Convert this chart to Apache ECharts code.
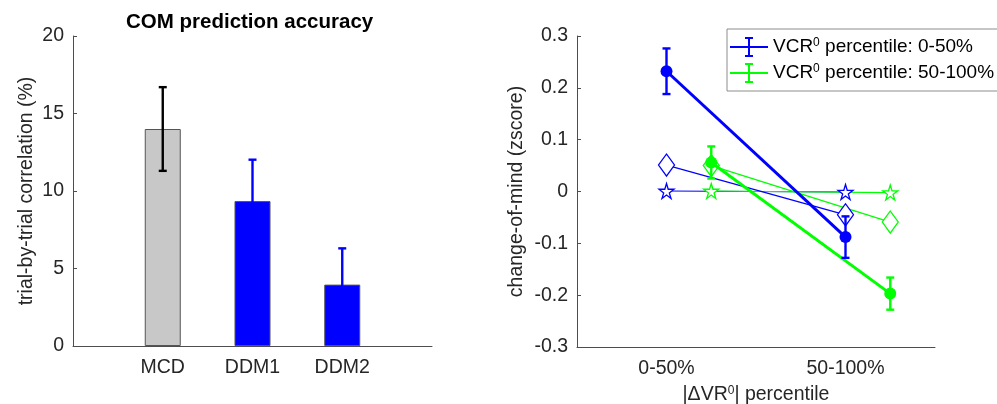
<!DOCTYPE html>
<html>
<head>
<meta charset="utf-8">
<script src="https://cdn.jsdelivr.net/npm/echarts@6/dist/echarts.min.js"></script>
<style>
  html, body { margin: 0; padding: 0; background: #fff; }
  #main { width: 997px; height: 404px; }
</style>
</head>
<body>
<div id="main"></div>
<script>
// left panel: COM prediction accuracy
const barCats = ['MCD', 'DDM1', 'DDM2'];
const barX = [1, 2, 3];
const barVals = [14.0, 9.35, 3.96];
const barErr = [2.7, 2.67, 2.34];
const barColors = ['#c8c8c8', '#0000ff', '#0000ff'];
const barErrColors = ['#000000', '#0000ff', '#0000ff'];
const barTicks = [0, 5, 10, 15, 20];

// right panel: change-of-mind
const pctCats = ['0-50%', '50-100%'];
const lowX = [1, 2];
const highX = [1.25, 2.25];
const lowMean = [0.232, -0.088];
const lowErr = [0.044, 0.040];
const highMean = [0.056, -0.197];
const highErr = [0.031, 0.031];
const lowDiamond = [0.051, -0.045];
const highDiamond = [0.050, -0.059];
const lowStar = [0.001, -0.001];
const highStar = [0.001, -0.002];

const BLUE = '#0000ff';
const GREEN = '#00ff00';
const TXT = '#262626';
const AX = '#4d4d4d';
const FS = 19.5;
const STAR = 'path://M50,0 L61,35 L98,35 L68,57 L79,91 L50,70 L21,91 L32,57 L2,35 L39,35 Z';
const ERRICON = 'path://M0,9 H38 V11 H0 Z M18,1 H20 V19 H18 Z M15,0 H23 V2 H15 Z M15,18 H23 V20 H15 Z';

let chart = echarts.init(document.getElementById('main'), null, { renderer: 'canvas' });

//误差棒
function errBar(params, api) {
	let x = api.value(0), lo = api.value(1), hi = api.value(2);
	let p1 = api.coord([x, lo]), p2 = api.coord([x, hi]);
	let color = api.visual('color');
	let w = 4;
	let st = { stroke: color, lineWidth: 2.4 };
	return {
		type: 'group',
		children: [
			{ type: 'line', shape: { x1: p1[0], y1: p1[1], x2: p2[0], y2: p2[1] }, style: st },
			{ type: 'line', shape: { x1: p1[0] - w, y1: p1[1], x2: p1[0] + w, y2: p1[1] }, style: st },
			{ type: 'line', shape: { x1: p2[0] - w, y1: p2[1], x2: p2[0] + w, y2: p2[1] }, style: st }
		]
	};
}

function zip(xs, ys) {
	return xs.map((x, i) => [x, ys[i]]);
}
function errData(xs, m, e) {
	return xs.map((x, i) => [x, m[i] - e[i], m[i] + e[i]]);
}

let barData = barX.map((x, i) => ({
	value: [x, barVals[i]],
	itemStyle: { color: barColors[i] }
}));
let barErrData = barX.map((x, i) => ({
	value: [x, barVals[i] - barErr[i], barVals[i] + barErr[i]],
	itemStyle: { color: barErrColors[i] }
}));

let legendText = { low: '0-50%', high: '50-100%' };

let option = {
	animation: false,
	textStyle: { fontFamily: 'Liberation Sans, Arial, sans-serif', color: TXT },
	title: {
		text: 'COM prediction accuracy',
		left: 126,
		top: 12,
		padding: 0,
		textStyle: { fontSize: 20.5, fontWeight: 'bold', color: '#000', fontFamily: 'Liberation Sans, Arial, sans-serif' }
	},
	legend: {
		data: ['low', 'high'],
		orient: 'vertical',
		left: 727,
		top: 29,
		padding: [8, 4, 8, 3],
		itemGap: 6,
		itemWidth: 38,
		itemHeight: 20,
		itemTextGap: 2,
		icon: ERRICON,
		backgroundColor: '#fff',
		borderColor: '#8c8c8c',
		borderWidth: 1,
		borderRadius: 0,
		selectedMode: false,
		formatter: name => `{a|VCR}{s|0}{a| percentile: ${legendText[name]}}`,
		textStyle: {
			rich: {
				a: { fontSize: 19, color: '#000', lineHeight: 20 },
				s: { fontSize: 12, color: '#000', lineHeight: 20, verticalAlign: 'top' }
			}
		}
	},
	grid: [
		{ left: 73, top: 36, width: 359, height: 310, outerBoundsMode: 'none' },
		{ left: 577, top: 36, width: 358, height: 311, outerBoundsMode: 'none' }
	],
	xAxis: [
		{
			gridIndex: 0,
			type: 'value',
			min: 0, max: 4, interval: 1,
			splitLine: { show: false },
			axisTick: { show: false },
			axisLine: { lineStyle: { color: AX, width: 1 } },
			axisLabel: {
				fontSize: FS, color: TXT, margin: 12,
				formatter: v => barCats[barX.indexOf(v)] || ''
			}
		},
		{
			gridIndex: 1,
			type: 'value',
			min: 0.5, max: 2.5, interval: 0.5,
			splitLine: { show: false },
			axisTick: { show: false },
			axisLine: { onZero: false, lineStyle: { color: AX, width: 1 } },
			axisLabel: {
				fontSize: FS, color: TXT, margin: 12,
				formatter: v => pctCats[lowX.indexOf(v)] || ''
			},
			name: '{a||\u0394VR}{s|0}{a|| percentile}',
			nameLocation: 'middle',
			nameGap: 38,
			nameTextStyle: {
				rich: {
					a: { fontSize: FS, color: TXT, lineHeight: 20 },
					s: { fontSize: 12, color: TXT, lineHeight: 20, verticalAlign: 'top' }
				}
			}
		}
	],
	yAxis: [
		{
			gridIndex: 0,
			type: 'value',
			min: 0, max: 20, interval: 5,
			splitLine: { show: false },
			axisLine: { show: true, lineStyle: { color: AX, width: 1 } },
			axisTick: { show: true, inside: true, length: 4, lineStyle: { color: AX } },
			axisLabel: { fontSize: FS, color: TXT, margin: 9, formatter: v => barTicks.includes(v) ? String(v) : '' },
			name: 'trial-by-trial correlation (%)',
			nameLocation: 'middle',
			nameGap: 36,
			nameTextStyle: { fontSize: FS, color: TXT }
		},
		{
			gridIndex: 1,
			type: 'value',
			min: -0.3, max: 0.3, interval: 0.1,
			splitLine: { show: false },
			axisLine: { show: true, onZero: false, lineStyle: { color: AX, width: 1 } },
			axisTick: { show: true, inside: true, length: 4, lineStyle: { color: AX } },
			axisLabel: { fontSize: FS, color: TXT, margin: 9, formatter: v => String(+v.toFixed(1)) },
			name: 'change-of-mind (zscore)',
			nameLocation: 'middle',
			nameGap: 50,
			nameTextStyle: { fontSize: FS, color: TXT }
		}
	],
	series: [
		{
			type: 'bar',
			xAxisIndex: 0, yAxisIndex: 0,
			barWidth: 36,
			data: barData,
			itemStyle: { borderColor: '#555', borderWidth: 1 }
		},
		{
			type: 'custom',
			xAxisIndex: 0, yAxisIndex: 0,
			renderItem: errBar,
			encode: { x: 0, y: [1, 2] },
			data: barErrData,
			z: 5
		},
		// 星形
		{
			type: 'line', name: 'lowStar',
			xAxisIndex: 1, yAxisIndex: 1,
			data: zip(lowX, lowStar),
			symbol: STAR, symbolSize: 15, showAllSymbol: true,
			lineStyle: { color: BLUE, width: 1.2 },
			itemStyle: { color: '#fff', borderColor: BLUE, borderWidth: 1.3 }
		},
		{
			type: 'line', name: 'highStar',
			xAxisIndex: 1, yAxisIndex: 1,
			data: zip(highX, highStar),
			symbol: STAR, symbolSize: 15,
			lineStyle: { color: GREEN, width: 1.2 },
			itemStyle: { color: '#fff', borderColor: GREEN, borderWidth: 1.3 }
		},
		// 菱形
		{
			type: 'line', name: 'lowDiamond',
			xAxisIndex: 1, yAxisIndex: 1,
			data: zip(lowX, lowDiamond),
			symbol: 'diamond', symbolSize: [16, 22],
			lineStyle: { color: BLUE, width: 1.2 },
			itemStyle: { color: '#fff', borderColor: BLUE, borderWidth: 1.3 }
		},
		{
			type: 'line', name: 'highDiamond',
			xAxisIndex: 1, yAxisIndex: 1,
			data: zip(highX, highDiamond),
			symbol: 'diamond', symbolSize: [16, 22],
			lineStyle: { color: GREEN, width: 1.2 },
			itemStyle: { color: '#fff', borderColor: GREEN, borderWidth: 1.3 }
		},
		// 均值
		{
			type: 'line', name: 'high',
			xAxisIndex: 1, yAxisIndex: 1,
			data: zip(highX, highMean),
			symbol: 'circle', symbolSize: 12,
			lineStyle: { color: GREEN, width: 3 },
			itemStyle: { color: GREEN },
			z: 4
		},
		{
			type: 'custom',
			xAxisIndex: 1, yAxisIndex: 1,
			renderItem: errBar,
			encode: { x: 0, y: [1, 2] },
			data: errData(highX, highMean, highErr),
			itemStyle: { color: GREEN },
			z: 4
		},
		{
			type: 'line', name: 'low',
			xAxisIndex: 1, yAxisIndex: 1,
			data: zip(lowX, lowMean),
			symbol: 'circle', symbolSize: 12,
			lineStyle: { color: BLUE, width: 3 },
			itemStyle: { color: BLUE },
			z: 5
		},
		{
			type: 'custom',
			xAxisIndex: 1, yAxisIndex: 1,
			renderItem: errBar,
			encode: { x: 0, y: [1, 2] },
			data: errData(lowX, lowMean, lowErr),
			itemStyle: { color: BLUE },
			z: 5
		}
	]
};

chart.setOption(option);
</script>
</body>
</html>
